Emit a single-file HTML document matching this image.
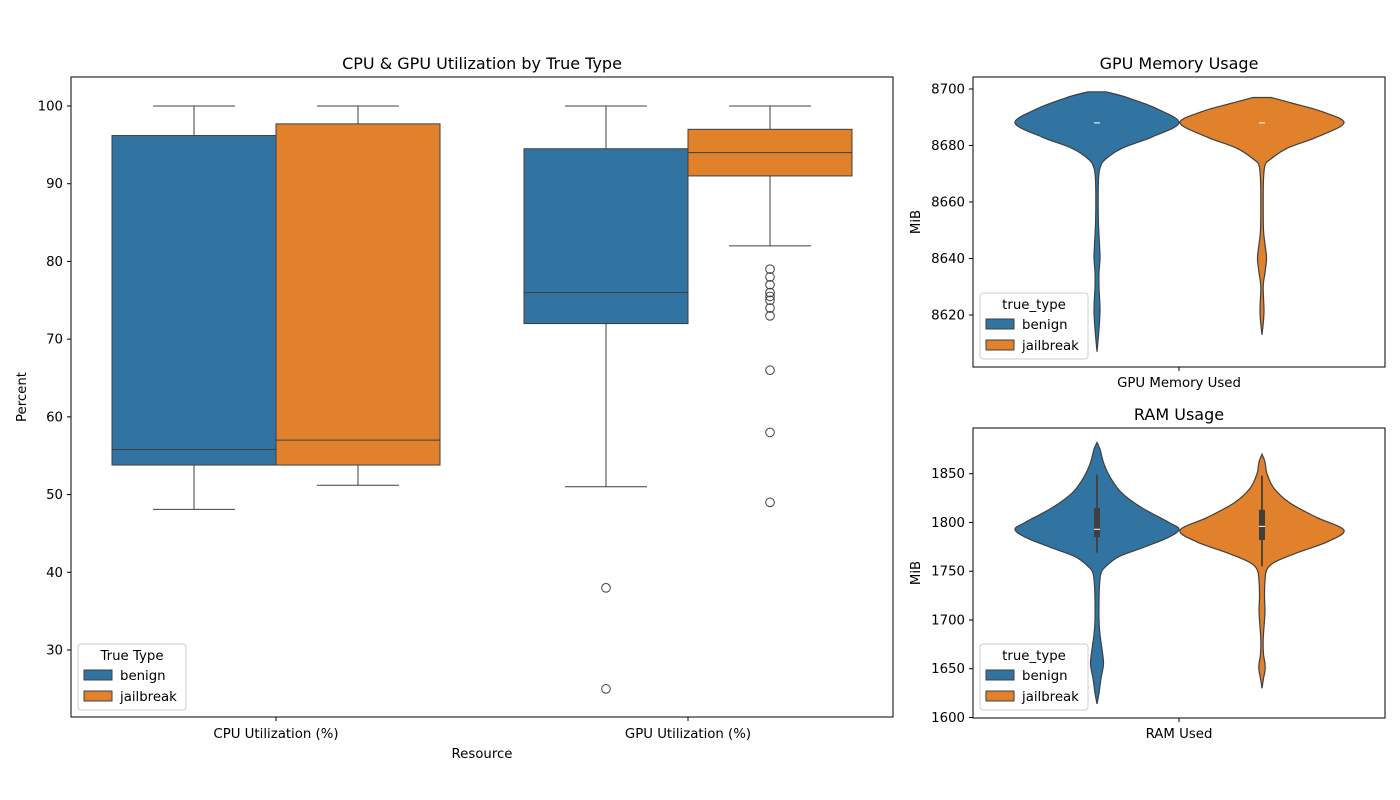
<!DOCTYPE html>
<html><head><meta charset="utf-8"><style>
body{margin:0;background:#fff}
svg{display:block;font-family:"DejaVu Sans","Liberation Sans",sans-serif}
</style></head><body>
<svg id="fig" width="1400" height="800" xmlns="http://www.w3.org/2000/svg"></svg>
<script>
// ---- Data ----
const boxCategories = ["CPU Utilization (%)", "GPU Utilization (%)"];
const boxTicks = [30,40,50,60,70,80,90,100];
// [whiskerLow, q1, median, q3, whiskerHigh]
const cpuBenign = [48.1, 53.8, 55.8, 96.2, 100];
const cpuJail = [51.2, 53.8, 57.0, 97.7, 100];
const gpuBenign = [51, 72, 76, 94.5, 100];
const gpuJail = [82, 91, 94, 97, 100];
const gpuBenignOutliers = [38, 25];
const gpuJailOutliers = [79, 78, 77, 76, 75.5, 75, 74, 73, 66, 58, 49];

const memTicks = [8620,8640,8660,8680,8700];
const memBenignVals = [8699,8697,8693,8688,8683,8679,8675,8672,8668,8660,8652,8645,8640,8635,8630,8622,8615,8607];
const memBenignDens = [9,30,60,82,55,25,8,3,1.5,1.2,1.5,2.5,3,2,2,3,2,0];
const memJailVals = [8697,8695,8692,8688,8683,8679,8675,8673,8668,8660,8650,8645,8640,8635,8630,8622,8618,8613];
const memJailDens = [9,30,60,82,55,25,8,3,1.5,1.2,1.5,3,4.5,3,1.2,2,1.5,0];

const ramTicks = [1600,1650,1700,1750,1800,1850];
const ramBenignVals = [1882,1875,1860,1845,1830,1815,1800,1793,1785,1775,1765,1755,1748,1735,1720,1700,1685,1670,1655,1640,1625,1614];
const ramBenignDens = [0,3,7,14,25,45,72,82,72,48,22,9,4,2.5,2,2,3,5,6.5,4,2,0];
const ramJailVals = [1870,1862,1850,1835,1820,1805,1792,1780,1770,1760,1752,1740,1725,1710,1700,1680,1665,1655,1648,1640,1630];
const ramJailDens = [0,3,5,12,28,55,82,65,38,14,5,3,2.5,3,2.5,1.2,1.5,3,3,1.5,0];
const ramBenignBox = [1769, 1785, 1793, 1815, 1849];
const ramJailBox = [1755, 1782, 1796, 1813, 1848];

const BLUE="#3274a1", ORANGE="#e1812c", EDGE="#3f3f3f";
const FS=13.3, TS=16;
const svg=document.getElementById('fig');
const NS="http://www.w3.org/2000/svg";
function mk(tag,attrs,parent){const e=document.createElementNS(NS,tag);for(const k in attrs)e.setAttribute(k,attrs[k]);(parent||svg).appendChild(e);return e;}
function txt(x,y,s,size,anchor,parent,rot){const t=mk('text',{x:x,y:y,'font-size':size,'text-anchor':anchor||'middle',fill:'#000'},parent);if(rot)t.setAttribute('transform',`rotate(-90 ${x} ${y})`);t.textContent=s;return t;}

// ---- Main box plot ----
const M={l:71,r:893,t:77,b:717};
const yMain=v=>106+(100-v)*7.7714;
const xCat=i=>276+i*412;
const g1=mk('g',{});


txt(482,69,"CPU & GPU Utilization by True Type",TS,'middle',g1);
boxTicks.forEach(v=>{const y=yMain(v);mk('line',{x1:M.l-4,x2:M.l,y1:y,y2:y,stroke:'#000'},g1);txt(M.l-8,y+4.5,String(v),FS,'end',g1);});
boxCategories.forEach((c,i)=>{const x=xCat(i);mk('line',{x1:x,x2:x,y1:M.b,y2:M.b+4,stroke:'#000'},g1);txt(x,738,c,FS,'middle',g1);});
txt(482,758,"Resource",FS,'middle',g1);
txt(26,397,"Percent",FS,'middle',g1,true);
function drawBox(st,cx,color,name,outl){
  const g=mk('g',{},g1);
  
  
  const w=164;const [lo,q1,md,q3,hi]=st;
  mk('line',{x1:cx+w/2,x2:cx+w/2,y1:yMain(hi),y2:yMain(q3),stroke:EDGE},g);
  mk('line',{x1:cx+w/2,x2:cx+w/2,y1:yMain(q1),y2:yMain(lo),stroke:EDGE},g);
  mk('line',{x1:cx+w/2-41,x2:cx+w/2+41,y1:yMain(hi),y2:yMain(hi),stroke:EDGE},g);
  mk('line',{x1:cx+w/2-41,x2:cx+w/2+41,y1:yMain(lo),y2:yMain(lo),stroke:EDGE},g);
  mk('rect',{x:cx,y:yMain(q3),width:w,height:yMain(q1)-yMain(q3),fill:color,stroke:EDGE},g);
  mk('line',{x1:cx,x2:cx+w,y1:yMain(md),y2:yMain(md),stroke:EDGE},g);
  (outl||[]).forEach(v=>mk('circle',{cx:cx+w/2,cy:yMain(v),r:4.3,fill:'none',stroke:EDGE},g));
}
drawBox(cpuBenign,xCat(0)-164,BLUE,'cpu-benign-box');
drawBox(cpuJail,xCat(0),ORANGE,'cpu-jailbreak-box');
drawBox(gpuBenign,xCat(1)-164,BLUE,'gpu-benign-box',gpuBenignOutliers);
drawBox(gpuJail,xCat(1),ORANGE,'gpu-jailbreak-box',gpuJailOutliers);
mk('rect',{x:M.l,y:M.t,width:M.r-M.l,height:M.b-M.t,fill:'none',stroke:'#000'},g1);

function legend(x,y,title,parent,name){
  const g=mk('g',{},parent);
  
  
  mk('rect',{x:x,y:y,width:108,height:66,rx:3,fill:'#fff',stroke:'#ccc','fill-opacity':0.85},g);
  txt(x+54,y+16,title,FS,'middle',g);
  [[BLUE,'benign'],[ORANGE,'jailbreak']].forEach((d,i)=>{
    const e=mk('g',{},g);
    
    
    mk('rect',{x:x+6,y:y+26+i*21,width:28,height:10,fill:d[0],stroke:EDGE},e);
    txt(x+42,y+36+i*21,d[1],FS,'start',e);
  });
}
legend(78,644,"True Type",g1,'box-legend');

// ---- Violins ----
function smoothPath(pts){let d=`M${pts[0][0]},${pts[0][1]}`;for(let i=0;i<pts.length-1;i++){const p0=pts[i-1]||pts[i],p1=pts[i],p2=pts[i+1],p3=pts[i+2]||p2;d+=` C${p1[0]+(p2[0]-p0[0])/6},${p1[1]+(p2[1]-p0[1])/6} ${p2[0]-(p3[0]-p1[0])/6},${p2[1]-(p3[1]-p1[1])/6} ${p2[0]},${p2[1]}`;}return d;}
function violin(parent,vals,dens,cx,yf,color,name){
  const r=vals.map((v,i)=>[cx+dens[i],yf(v)]);
  const l=vals.map((v,i)=>[cx-dens[i],yf(v)]).reverse();
  const d=smoothPath(r)+' L'+smoothPath(l).slice(1)+' Z';
  const p=mk('path',{d:d,fill:color,stroke:EDGE,'stroke-width':1.2},parent);
  
  
}
function panel(top,bot,title,xlabel,ticks,yf,name){
  const g=mk('g',{});
  
  
  txt(1179,top-8,title,TS,'middle',g);
  ticks.forEach(v=>{const y=yf(v);mk('line',{x1:969,x2:973,y1:y,y2:y,stroke:'#000'},g);txt(965,y+4.5,String(v),FS,'end',g);});
  mk('line',{x1:1179,x2:1179,y1:bot,y2:bot+4,stroke:'#000'},g);
  txt(1179,bot+20,xlabel,FS,'middle',g);
  txt(920,(top+bot)/2,"MiB",FS,'middle',g,true);
  return g;
}
const yMem=v=>89+(8700-v)*2.825;
const gm=panel(77,367,"GPU Memory Usage","GPU Memory Used",memTicks,yMem,'gpu-memory-panel');
violin(gm,memBenignVals,memBenignDens,1097,yMem,BLUE,'gpu-memory-benign-violin');
violin(gm,memJailVals,memJailDens,1262,yMem,ORANGE,'gpu-memory-jailbreak-violin');
[1097,1262].forEach(x=>mk('line',{x1:x-3,x2:x+3,y1:yMem(8688),y2:yMem(8688),stroke:'#fff'},gm));
mk('rect',{x:973,y:77,width:412,height:290,fill:'none',stroke:'#000'},gm);
legend(980,293,"true_type",gm,'gpu-memory-legend');

const yRam=v=>717.5-(v-1600)*0.9752;
const gr=panel(428,718,"RAM Usage","RAM Used",ramTicks,yRam,'ram-panel');
violin(gr,ramBenignVals,ramBenignDens,1097,yRam,BLUE,'ram-benign-violin');
violin(gr,ramJailVals,ramJailDens,1262,yRam,ORANGE,'ram-jailbreak-violin');
[[1097,ramBenignBox],[1262,ramJailBox]].forEach(([x,b])=>{
  mk('line',{x1:x,x2:x,y1:yRam(b[0]),y2:yRam(b[4]),stroke:EDGE,'stroke-width':1.8},gr);
  mk('rect',{x:x-3,y:yRam(b[3]),width:6,height:yRam(b[1])-yRam(b[3]),fill:EDGE},gr);
  mk('line',{x1:x-3,x2:x+3,y1:yRam(b[2]),y2:yRam(b[2]),stroke:'#fff'},gr);
});
mk('rect',{x:973,y:428,width:412,height:290,fill:'none',stroke:'#000'},gr);
legend(980,644,"true_type",gr,'ram-legend');
</script>
</body></html>
